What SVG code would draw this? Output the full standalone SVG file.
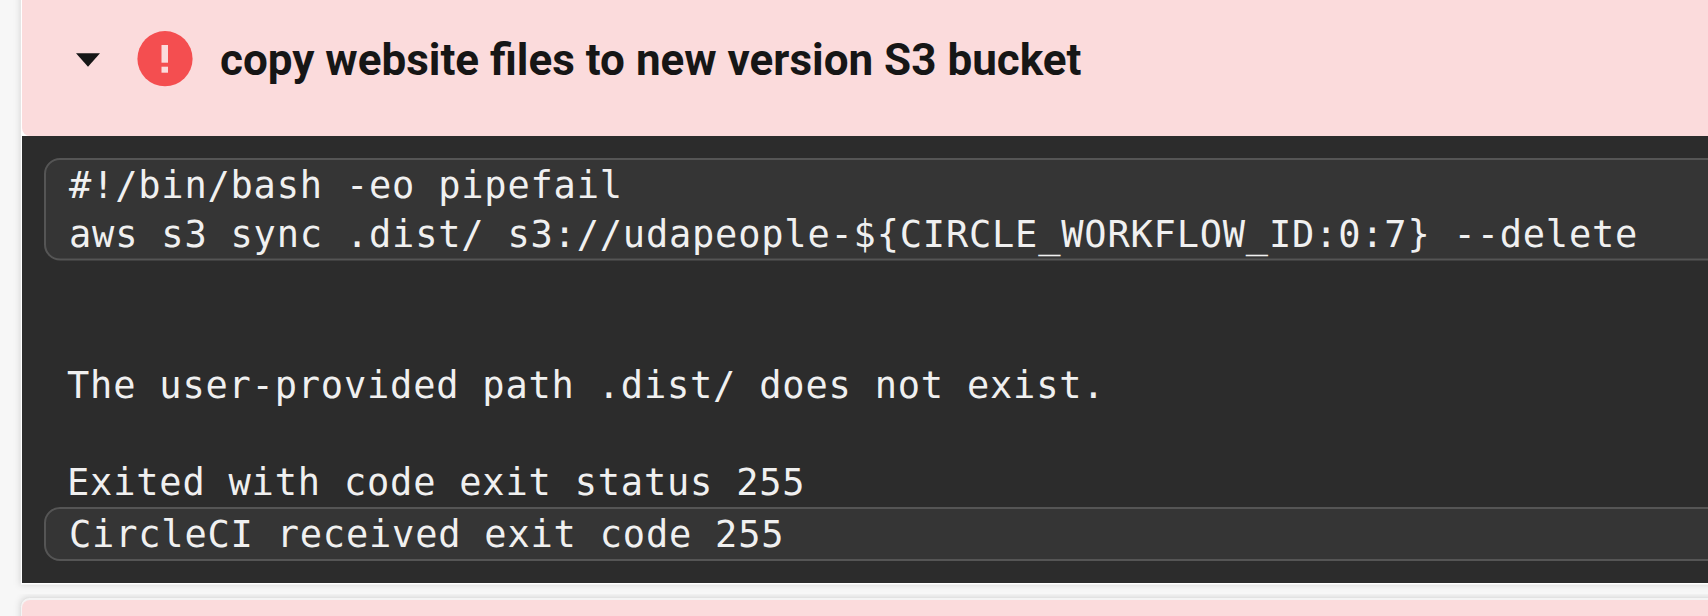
<svg xmlns="http://www.w3.org/2000/svg" width="1708" height="616" viewBox="0 0 1708 616">
<defs>
<filter id="blur" x="-5%" y="-5%" width="110%" height="110%"><feGaussianBlur stdDeviation="3"/></filter>
</defs>
<style>
.m{font-family:"DejaVu Sans Mono","Liberation Mono",monospace;font-size:37px;letter-spacing:.8px;fill:#f0f0f0}
.box{fill:#353535;stroke:#555;stroke-width:2}
.sh{fill:#000;fill-opacity:.13;filter:url(#blur)}
</style>
<rect width="1708" height="616" fill="#f7f7f7"/>
<rect x="20" y="-30" width="1720" height="615" class="sh"/>
<rect x="20" y="597" width="1720" height="60" rx="8" class="sh"/>
<rect x="21" y="-10" width="1700" height="594.500" fill="#fff"/>
<g id="header">
<path d="M22 0H1708V136H30a8 8 0 0 1-8-8Z" fill="#fbdbdc"/>
<path d="M76 53.300H100L88 66.700Z" fill="#161616"/>
<circle cx="165" cy="58.700" r="27.600" fill="#f44e50"/>
<rect x="161.500" y="45" width="6.500" height="17.700" fill="#fbdbdc"/>
<rect x="161.500" y="66.700" width="6.500" height="6" fill="#fbdbdc"/>
<text x="220" y="75" font-family="Roboto,'Liberation Sans',sans-serif" font-weight="700" font-size="44px" fill="#161616">copy website files to new version S3 bucket</text>
</g>
<g id="output">
<rect x="22" y="136" width="1686" height="447" fill="#2c2c2c"/>
<path d="M1710 159H60a15 15 0 0 0-15 15V244.500a15 15 0 0 0 15 15H1710Z" class="box"/>
<text x="69" y="198" class="m">#!/bin/bash -eo pipefail</text>
<text x="69" y="247" class="m">aws s3 sync .dist/ s3://udapeople-${CIRCLE_WORKFLOW_ID:0:7} --delete</text>
<text x="67" y="398" class="m">The user-provided path .dist/ does not exist.</text>
<text x="67" y="495" class="m">Exited with code exit status 255</text>
<path d="M1710 508H60a15 15 0 0 0-15 15V545a15 15 0 0 0 15 15H1710Z" class="box"/>
<text x="69" y="547" class="m">CircleCI received exit code 255</text>
</g>
<g id="next">
<rect x="20.500" y="597.500" width="1700" height="40" rx="9" fill="#f4f4f4" stroke="#e2e2e2"/>
<path d="M22 616V608a8 8 0 0 1 8-8H1708V616Z" fill="#fbdbdc"/>
</g>
</svg>
